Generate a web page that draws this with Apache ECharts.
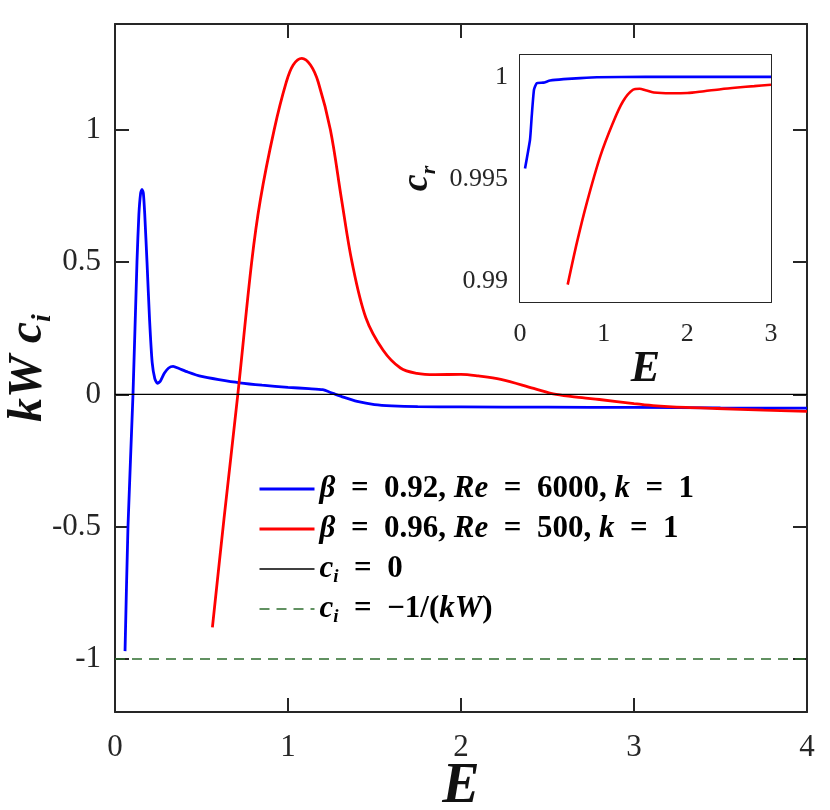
<!DOCTYPE html>
<html>
<head>
<meta charset="utf-8">
<script src="https://cdn.jsdelivr.net/npm/echarts@6.0.0/dist/echarts.min.js"></script>
<style>
  html,body{margin:0;padding:0;background:#fff}
  #main{width:830px;height:810px}
</style>
</head>
<body>
<div id="main"></div>
<script>
// main panel: kW*c_i against E
var blueE  = [0.058,0.075,0.104,0.127,0.138,0.148,0.156,0.164,0.172,0.185,0.2,0.215,0.23,0.245,0.262,0.285,0.31,0.336,0.37,0.42,0.5,0.6,0.72,0.85,1.0,1.12,1.2,1.26,1.32,1.4,1.5,1.6,1.75,2.0,2.5,3.0,3.5,4.0];
var blueKc = [-0.97,-0.5,0.0,0.5,0.68,0.76,0.775,0.76,0.68,0.5,0.28,0.12,0.06,0.042,0.05,0.08,0.1,0.106,0.098,0.085,0.068,0.056,0.044,0.035,0.027,0.022,0.018,0.004,-0.01,-0.026,-0.038,-0.043,-0.046,-0.047,-0.048,-0.049,-0.051,-0.052];
var redE   = [0.563,0.63,0.71,0.79,0.84,0.92,0.99,1.03,1.08,1.13,1.175,1.245,1.31,1.37,1.45,1.55,1.65,1.745,1.85,2.0,2.1,2.23,2.42,2.55,2.7,2.8,3.0,3.11,3.3,3.48,3.75,4.0];
var redKc  = [-0.88,-0.47,0.0,0.5,0.735,1.0,1.18,1.245,1.27,1.245,1.18,1.0,0.735,0.5,0.29,0.167,0.10,0.08,0.075,0.076,0.07,0.057,0.023,0.0,-0.012,-0.019,-0.035,-0.042,-0.049,-0.053,-0.059,-0.064];
var refE   = [0, 4];
var zeroKc = [0, 0];
var limKc  = [-1, -1];

// inset: c_r against E
var insetBlueE  = [0.06,0.12,0.14,0.167,0.2,0.28,0.36,0.52,0.72,0.92,1.5,2.0,2.5,3.0];
var insetBlueCr = [0.99552,0.99694,0.99807,0.99937,0.99969,0.99972,0.99982,0.99989,0.99994,0.99998,1.0,1.0,1.0,1.0];
var insetRedE   = [0.57,0.68,0.80,0.96,1.11,1.23,1.35,1.43,1.5,1.6,1.8,2.0,2.2,2.4,2.6,2.8,3.0];
var insetRedCr  = [0.98985,0.9919,0.99387,0.99613,0.99775,0.9988,0.99937,0.99942,0.99935,0.99924,0.9992,0.99921,0.9993,0.9994,0.99948,0.99955,0.99962];

var mainYTicks  = [-1, -0.5, 0, 0.5, 1];
var insetYTicks = [0.99, 0.995, 1];

var names = ['β = 0.92, Re = 6000, k = 1', 'β = 0.96, Re = 500, k = 1', 'c_i = 0', 'c_i = −1/(kW)'];
var eq = '\u2002=\u2002';
var legendRich = {};
legendRich[names[0]] = '{v|β}' + eq + '0.92, {v|Re}' + eq + '6000, {v|k}' + eq + '1';
legendRich[names[1]] = '{v|β}' + eq + '0.96, {v|Re}' + eq + '500, {v|k}' + eq + '1';
legendRich[names[2]] = '{v|c}{s|i}' + eq + '0';
legendRich[names[3]] = '{v|c}{s|i}' + eq + '−1/({v|kW})';

function pairs(xs, ys) {
  return xs.map(function (x, i) { return [x, ys[i]]; });
}

var serif = 'Liberation Serif';
var frame = '#262626';

function frameAxis(grid, pos, tickLen, extra) {
  var a = {
    gridIndex: grid, type: 'value', position: pos,
    axisLine: {show: true, onZero: false, lineStyle: {color: frame, width: 2}},
    axisTick: {show: true, inside: true, length: tickLen, lineStyle: {color: frame, width: 2}},
    axisLabel: {show: false},
    splitLine: {show: false},
    nameMoveOverlap: false
  };
  for (var k in extra) a[k] = extra[k];
  return a;
}

var chart = echarts.init(document.getElementById('main'));

var option = {
  animation: false,
  backgroundColor: '#fff',
  grid: [
    {left: 115, right: 23, top: 24, bottom: 98, outerBoundsMode: 'none'},
    {left: 520, top: 55, width: 251, height: 247, outerBoundsMode: 'none', show: true, backgroundColor: '#fff', borderWidth: 0, z: 5}
  ],
  legend: {
    data: [
      {name: names[0], lineStyle: {width: 3}},
      {name: names[1], lineStyle: {width: 3}},
      {name: names[2], lineStyle: {width: 1.5}},
      {name: names[3], lineStyle: {width: 1.6}}
    ],
    orient: 'vertical',
    left: 253, top: 466,
    itemWidth: 55, itemHeight: 14, itemGap: 4,
    itemStyle: {opacity: 0},
    selectedMode: false,
    formatter: function (name) { return legendRich[name]; },
    textStyle: {
      fontFamily: serif, fontSize: 31, fontWeight: 'bold', color: '#000', lineHeight: 36,
      rich: {
        v: {fontFamily: serif, fontSize: 31, fontWeight: 'bold', fontStyle: 'italic', color: '#000', lineHeight: 36},
        s: {fontFamily: serif, fontSize: 19, fontWeight: 'bold', fontStyle: 'italic', color: '#000', lineHeight: 19, verticalAlign: 'bottom'}
      }
    }
  },
  xAxis: [
    frameAxis(0, 'bottom', 14, {
      min: 0, max: 4, interval: 1,
      axisLabel: {show: true, margin: 20, fontFamily: serif, fontSize: 31, color: frame},
      name: 'E', nameLocation: 'middle', nameGap: 48,
      nameTextStyle: {fontFamily: serif, fontSize: 56, fontStyle: 'italic', fontWeight: 'bold', color: '#111', lineHeight: 56}
    }),
    frameAxis(0, 'top', 14, {min: 0, max: 4, interval: 1}),
    frameAxis(1, 'bottom', 11, {
      min: 0, max: 3, interval: 1,
      axisLabel: {show: true, margin: 19, fontFamily: serif, fontSize: 26, color: frame},
      name: 'E', nameLocation: 'middle', nameGap: 46,
      nameTextStyle: {fontFamily: serif, fontSize: 44, fontStyle: 'italic', fontWeight: 'bold', color: '#111', lineHeight: 44}
    }),
    frameAxis(1, 'top', 11, {min: 0, max: 3, interval: 1})
  ],
  yAxis: [
    frameAxis(0, 'left', 14, {
      min: -1.2, max: 1.4,
      axisTick: {show: true, inside: true, length: 14, customValues: mainYTicks, lineStyle: {color: frame, width: 2}},
      axisLabel: {show: true, margin: 14, customValues: mainYTicks, fontFamily: serif, fontSize: 31, color: frame},
      name: '{v|kW c}{s|i}', nameLocation: 'middle', nameGap: 58,
      nameTextStyle: {
        rich: {
          v: {fontFamily: serif, fontSize: 48, fontStyle: 'italic', fontWeight: 'bold', color: '#111', lineHeight: 56},
          s: {fontFamily: serif, fontSize: 28, fontStyle: 'italic', fontWeight: 'bold', color: '#111', lineHeight: 28, verticalAlign: 'bottom'}
        }
      }
    }),
    frameAxis(0, 'right', 14, {
      min: -1.2, max: 1.4,
      axisTick: {show: true, inside: true, length: 14, customValues: mainYTicks, lineStyle: {color: frame, width: 2}}
    }),
    frameAxis(1, 'left', 11, {
      min: 0.989, max: 1.00107,
      axisTick: {show: true, inside: true, length: 11, customValues: insetYTicks, lineStyle: {color: frame, width: 2}},
      axisLabel: {show: true, margin: 12, customValues: insetYTicks, fontFamily: serif, fontSize: 26, color: frame},
      name: '{v|c}{s|r}', nameLocation: 'middle', nameGap: 80,
      nameTextStyle: {
        rich: {
          v: {fontFamily: serif, fontSize: 38, fontStyle: 'italic', fontWeight: 'bold', color: '#111', lineHeight: 46},
          s: {fontFamily: serif, fontSize: 22, fontStyle: 'italic', fontWeight: 'bold', color: '#111', lineHeight: 22, verticalAlign: 'bottom'}
        }
      }
    }),
    frameAxis(1, 'right', 11, {
      min: 0.989, max: 1.00107,
      axisTick: {show: true, inside: true, length: 11, customValues: insetYTicks, lineStyle: {color: frame, width: 2}}
    })
  ],
  series: [
    {
      name: names[0], type: 'line', xAxisIndex: 0, yAxisIndex: 0,
      data: pairs(blueE, blueKc), showSymbol: false, symbol: 'none', smooth: 0.2,
      lineStyle: {color: '#0000ff', width: 2.8}, itemStyle: {color: '#0000ff'}
    },
    {
      name: names[1], type: 'line', xAxisIndex: 0, yAxisIndex: 0,
      data: pairs(redE, redKc), showSymbol: false, symbol: 'none', smooth: 0.35,
      lineStyle: {color: '#ff0000', width: 2.8}, itemStyle: {color: '#ff0000'}
    },
    {
      name: names[2], type: 'line', xAxisIndex: 0, yAxisIndex: 0,
      data: pairs(refE, zeroKc), showSymbol: false, symbol: 'none',
      lineStyle: {color: '#000', width: 1.2}, itemStyle: {color: '#000'}
    },
    {
      name: names[3], type: 'line', xAxisIndex: 0, yAxisIndex: 0,
      data: pairs(refE, limKc), showSymbol: false, symbol: 'none',
      lineStyle: {color: '#2e6e2e', width: 1.5, type: [10, 7]}, itemStyle: {color: '#2e6e2e'}
    },
    {
      name: 'inset blue', type: 'line', xAxisIndex: 2, yAxisIndex: 2, z: 6,
      data: pairs(insetBlueE, insetBlueCr), showSymbol: false, symbol: 'none', smooth: 0.15,
      lineStyle: {color: '#0000ff', width: 2.6}, itemStyle: {color: '#0000ff'}
    },
    {
      name: 'inset red', type: 'line', xAxisIndex: 2, yAxisIndex: 2, z: 6,
      data: pairs(insetRedE, insetRedCr), showSymbol: false, symbol: 'none', smooth: 0.3,
      lineStyle: {color: '#ff0000', width: 2.6}, itemStyle: {color: '#ff0000'}
    }
  ]
};

chart.setOption(option);
</script>
</body>
</html>
